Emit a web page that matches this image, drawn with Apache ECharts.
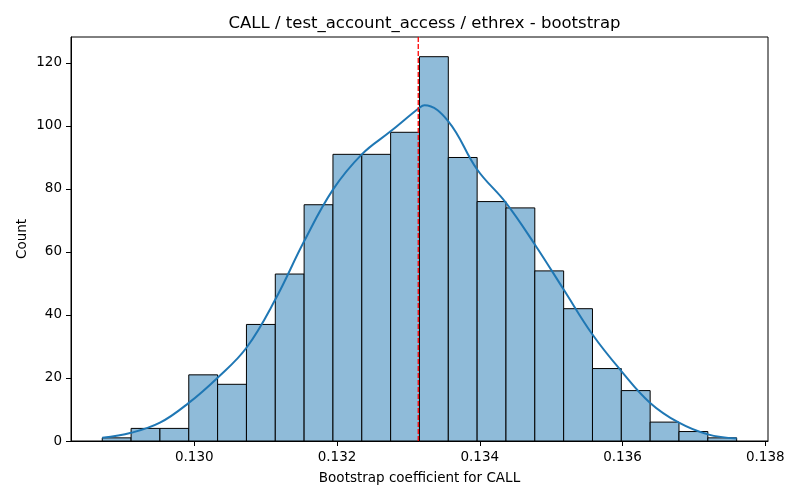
<!DOCTYPE html>
<html>
<head>
<meta charset="UTF-8">
<title>bootstrap</title>
<script src="https://cdn.jsdelivr.net/npm/echarts@6/dist/echarts.min.js"></script>
</head>
<body style="margin:0">
<div id='main' style="width:800px;height:500px"></div>
<script type="text/javascript">
// histogram bins (left/right edges) and counts
var binEdges=[0.128711,0.129115,0.129519,0.129923,0.130327,0.130731,0.131135,0.131539,0.131943,0.132347,0.132751,
	0.133155,0.133559,0.133963,0.134367,0.134771,0.135175,0.135579,0.135983,0.136387,0.136791,0.137195,0.137599];
var counts=[1,4,4,21,18,37,53,75,91,91,98,122,90,76,74,54,42,23,16,6,3,1];

// kde curve
var kdeX=[0.128711,0.129115,0.129519,0.129923,0.130327,0.130731,0.131135,0.131539,0.131943,0.132347,
	0.132751,0.133155,0.133225,0.133559,0.133963,0.134367,0.134771,0.135175,0.135579,0.135983,
	0.136387,0.136791,0.137195,0.137599];
var kdeY=[1.0,2.6,5.8,12.1,20.1,29.6,44.9,63.4,79.8,91,
	98.3,105.8,106.6,101.5,86.2,75.6,62.4,48.1,33.8,22.2,
	12.1,5.8,2.1,0.8];

var meanValue=0.133138;
var xTicks=[0.130,0.132,0.134,0.136,0.138];
var yTicks=[0,20,40,60,80,100,120];
var yMax=128.25;

var font='DejaVu Sans';
var histData=[];
for(var i=0;i<counts.length;i++){
	histData.push([binEdges[i],binEdges[i+1],counts[i]]);
}
var kdeData=[];
for(var i=0;i<kdeX.length;i++){
	kdeData.push([kdeX[i],kdeY[i]]);
}

var myChart=echarts.init(document.getElementById('main'));
var option={
	animation:false,
	title:{
		text:'CALL / test_account_access / ethrex - bootstrap',
		left:419.5,
		top:10,
		textAlign:'center',
		textStyle:{fontFamily:font,fontSize:16.5,fontWeight:'normal',color:'#000'}
	},
	grid:{
		left:71,right:32,top:37,bottom:59,
		show:true,borderColor:'#000',borderWidth:1,backgroundColor:'#fff'
	},
	xAxis:{
		type:'value',
		min:0.128273,
		max:0.138038,
		name:'Bootstrap coefficient for CALL',
		nameLocation:'middle',
		nameGap:30,
		nameMoveOverlap:false,
		nameTextStyle:{fontFamily:font,fontSize:13.5,color:'#000'},
		axisLine:{show:true,onZero:false,lineStyle:{color:'#000',width:1}},
		axisTick:{show:true,length:5,customValues:xTicks,lineStyle:{color:'#000'}},
		axisLabel:{customValues:xTicks,margin:9,fontFamily:font,fontSize:13.5,color:'#000',
			formatter:function(v){return v.toFixed(3);}},
		splitLine:{show:false}
	},
	yAxis:{
		type:'value',
		min:0,
		max:yMax,
		name:'Count',
		nameLocation:'middle',
		nameGap:42,
		nameMoveOverlap:false,
		nameTextStyle:{fontFamily:font,fontSize:13.5,color:'#000'},
		axisLine:{show:true,lineStyle:{color:'#000',width:1}},
		axisTick:{show:true,length:5,customValues:yTicks,lineStyle:{color:'#000'}},
		axisLabel:{customValues:yTicks,margin:9,fontFamily:font,fontSize:13.5,color:'#000'},
		splitLine:{show:false}
	},
	series:[{
		type:'custom',
		data:histData,
		encode:{x:[0,1],y:2},
		renderItem:function(params,api){
			var p0=api.coord([api.value(0),api.value(2)]);
			var p1=api.coord([api.value(1),0]);
			return {
				type:'rect',
				shape:{x:p0[0],y:p0[1],width:p1[0]-p0[0],height:p1[1]-p0[1]},
				style:{fill:'#8fbbd9',stroke:'#000',lineWidth:1}
			};
		},
		z:2
	},{
		type:'line',
		data:kdeData,
		showSymbol:false,
		smooth:0.4,
		lineStyle:{color:'#1f77b4',width:2},
		z:3
	},{
		type:'line',
		data:[[meanValue,0],[meanValue,yMax]],
		showSymbol:false,
		lineStyle:{color:'#ff0000',type:[5,2],width:1.3},
		z:4
	}]
};
myChart.setOption(option);
</script>
</body>
</html>
